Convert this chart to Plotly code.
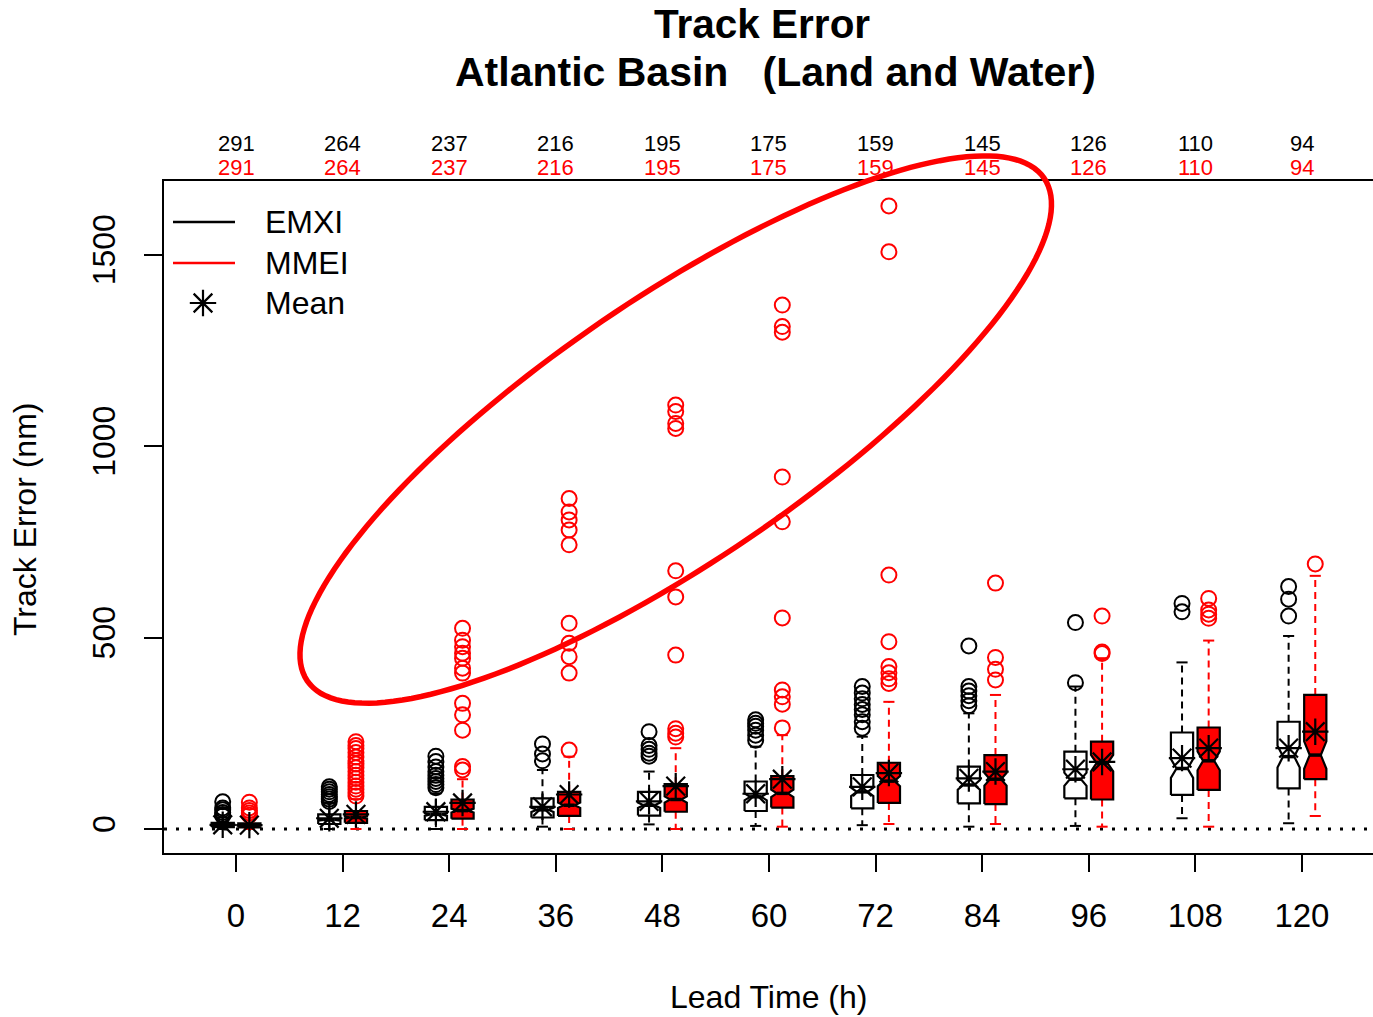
import numpy as np
import plotly.graph_objects as go

# ---- data -----------------------------------------------------------------
lead_times = [0, 12, 24, 36, 48, 60, 72, 84, 96, 108, 120]
n_emxi = [291, 264, 237, 216, 195, 175, 159, 145, 126, 110, 94]
n_mmei = [291, 264, 237, 216, 195, 175, 159, 145, 126, 110, 94]

emxi_low = [0, 0, 0, 6, 12, 8, 10, 6, 8, 28, 15]
emxi_q1 = [5, 13, 23, 30, 35, 47, 54, 67, 80, 89, 106]
emxi_med = [9, 24, 38, 50, 62, 84, 97, 115, 130, 158, 189]
emxi_q3 = [16, 38, 58, 80, 97, 124, 141, 163, 202, 252, 280]
emxi_high = [30, 68, 93, 154, 150, 215, 241, 302, 372, 435, 504]
emxi_mean = [11, 28, 45, 58, 72, 92, 110, 132, 156, 185, 211]
emxi_out = [
    [34, 38, 43, 50, 55, 71],
    [72, 78, 84, 90, 97, 104, 110],
    [108, 116, 124, 132, 140, 150, 162, 176, 190],
    [178, 196, 222],
    [190, 198, 208, 218, 254],
    [232, 245, 258, 268, 276, 285],
    [263, 280, 298, 312, 325, 340, 355, 372],
    [322, 335, 348, 360, 372, 478],
    [382, 539],
    [567, 589],
    [556, 600, 633],
]

mmei_low = [0, 0, 0, 0, 0, 6, 13, 13, 6, 6, 34]
mmei_q1 = [4, 16, 27, 34, 45, 56, 68, 65, 77, 102, 130]
mmei_med = [8, 30, 48, 62, 77, 93, 125, 130, 172, 178, 193]
mmei_q3 = [15, 47, 77, 97, 117, 138, 173, 193, 228, 265, 350]
mmei_high = [30, 78, 130, 189, 211, 245, 332, 350, 446, 492, 661]
mmei_mean = [10, 38, 68, 90, 112, 130, 146, 150, 175, 211, 254]
mmei_out = [
    [36, 42, 48, 55, 70],
    [86, 95, 104, 112, 122, 132, 140, 150, 160, 170, 178, 188, 200, 210, 218, 228],
    [154, 163, 258, 298, 328, 407, 420, 446, 459, 476, 493, 524],
    [206, 407, 450, 485, 537, 742, 781, 807, 828, 863],
    [240, 250, 262, 454, 606, 674, 1046, 1059, 1090, 1107],
    [264, 326, 345, 363, 551, 802, 919, 1297, 1312, 1368],
    [380, 392, 408, 424, 489, 663, 1507, 1627],
    [389, 417, 448, 642],
    [458, 462, 556],
    [550, 561, 572, 602],
    [692],
]

y_ticks = [0, 500, 1000, 1500]

# ---- geometry ---------------------------------------------------------------
W, H = 1373, 1017
ML, MR, MT, MB = 164, 0, 181, 164
PW, PH = W - ML - MR, H - MT - MB
X_RANGE = [-8.11, 128.0]
Y_RANGE = [-62.7, 1692.0]

FONT = "Liberation Sans, Arial, Helvetica, sans-serif"
RED = "#ff0000"

BOX_OFFSET = 1.5      # hours either side of the lead time
BOX_HALF = 1.25       # half box width, hours
NOTCH_FRAC = 0.5


def px_x(v):
    return ML + (v - X_RANGE[0]) / (X_RANGE[1] - X_RANGE[0]) * PW


def px_y(v):
    return MT + (Y_RANGE[1] - v) / (Y_RANGE[1] - Y_RANGE[0]) * PH


def paper_x(px):
    return (px - ML) / PW


def paper_y(py):
    return (H - MB - py) / PH


def box_traces(offset, low, q1, med, q3, high, n, outs, edge, fill, whisk):
    wx, wy, sx, sy, bx, by, mx, my, ox, oy = ([] for _ in range(10))
    for i, t in enumerate(lead_times):
        xc = t + offset
        half = 1.58 * (q3[i] - q1[i]) / np.sqrt(n[i])
        c_lo, c_hi = med[i] - half, med[i] + half
        # dashed whiskers
        wx += [xc, xc, None, xc, xc, None]
        wy += [q1[i], low[i], None, q3[i], high[i], None]
        # staples
        s = BOX_HALF / 2
        sx += [xc - s, xc + s, None, xc - s, xc + s, None]
        sy += [low[i], low[i], None, high[i], high[i], None]
        # notched box outline (R bxp style)
        w, wn = BOX_HALF, BOX_HALF * NOTCH_FRAC
        bx += [xc - w, xc + w, xc + w, xc + wn, xc + w, xc + w,
               xc - w, xc - w, xc - wn, xc - w, xc - w, None]
        by += [q1[i], q1[i], c_lo, med[i], c_hi, q3[i],
               q3[i], c_hi, med[i], c_lo, q1[i], None]
        mx += [xc - wn, xc + wn, None]
        my += [med[i], med[i], None]
        ox += [xc] * len(outs[i])
        oy += outs[i]
    return [
        go.Scatter(x=wx, y=wy, mode="lines", hoverinfo="skip",
                   line=dict(color=whisk, width=2, dash="7px,5px")),
        go.Scatter(x=sx, y=sy, mode="lines", hoverinfo="skip",
                   line=dict(color=whisk, width=2)),
        go.Scatter(x=bx, y=by, mode="lines", fill="toself", fillcolor=fill,
                   hoverinfo="skip", line=dict(color=edge, width=2.2)),
        go.Scatter(x=mx, y=my, mode="lines", hoverinfo="skip",
                   line=dict(color="black", width=3.5)),
        go.Scatter(x=ox, y=oy, mode="markers", hoverinfo="skip",
                   marker=dict(symbol="circle-open", size=15, color=whisk,
                               line=dict(width=2, color=whisk))),
    ]


fig = go.Figure()

# dotted zero reference line
fig.add_trace(go.Scatter(x=X_RANGE, y=[0, 0], mode="lines", hoverinfo="skip",
                         line=dict(color="black", width=3, dash="3px,9px")))

for tr in box_traces(-BOX_OFFSET, emxi_low, emxi_q1, emxi_med, emxi_q3, emxi_high,
                     n_emxi, emxi_out, "black", "white", "black"):
    fig.add_trace(tr)
for tr in box_traces(BOX_OFFSET, mmei_low, mmei_q1, mmei_med, mmei_q3, mmei_high,
                     n_mmei, mmei_out, "black", RED, RED):
    fig.add_trace(tr)

# means
for offset, means in ((-BOX_OFFSET, emxi_mean), (BOX_OFFSET, mmei_mean)):
    fig.add_trace(go.Scatter(
        x=[t + offset for t in lead_times], y=means, mode="markers",
        hoverinfo="skip",
        marker=dict(symbol="asterisk-open", size=22, color="black",
                    line=dict(width=2.2, color="black"))))

# legend (drawn by hand, top-left, no frame)
leg_rows = [(222, "EMXI"), (263, "MMEI"), (303, "Mean")]
shapes = []
for py, col in ((222, "black"), (263, RED)):
    shapes.append(dict(type="line", xref="paper", yref="paper",
                       x0=paper_x(173), x1=paper_x(235),
                       y0=paper_y(py), y1=paper_y(py),
                       line=dict(color=col, width=2.5)))
fig.add_trace(go.Scatter(
    x=[X_RANGE[0] + (203 - ML) / PW * (X_RANGE[1] - X_RANGE[0])],
    y=[Y_RANGE[1] - (303 - MT) / PH * (Y_RANGE[1] - Y_RANGE[0])],
    mode="markers", hoverinfo="skip", cliponaxis=False,
    marker=dict(symbol="asterisk-open", size=22, color="black",
                line=dict(width=2.2, color="black"))))

annotations = []
for py, label in leg_rows:
    annotations.append(dict(text=label, xref="paper", yref="paper",
                            x=paper_x(263), y=paper_y(py), xanchor="left",
                            yanchor="middle", showarrow=False,
                            font=dict(size=32, family=FONT, color="black")))

# sample counts above the panel
for t, ne, nm in zip(lead_times, n_emxi, n_mmei):
    annotations.append(dict(text=str(ne), xref="x", yref="paper", x=t,
                            y=paper_y(143), yanchor="middle", showarrow=False,
                            font=dict(size=22, family=FONT, color="black")))
    annotations.append(dict(text=str(nm), xref="x", yref="paper", x=t,
                            y=paper_y(168), yanchor="middle", showarrow=False,
                            font=dict(size=22, family=FONT, color=RED)))

# titles
annotations.append(dict(text="<b>Track Error</b>", xref="paper", yref="paper",
                        x=paper_x(762), y=paper_y(24), yanchor="middle",
                        showarrow=False, font=dict(size=40.5, family=FONT)))
annotations.append(dict(text="<b>Atlantic Basin\u00a0\u00a0\u00a0(Land and Water)</b>",
                        xref="paper", yref="paper",
                        x=paper_x(775), y=paper_y(72), yanchor="middle",
                        showarrow=False, font=dict(size=41, family=FONT)))
annotations.append(dict(text="Lead Time (h)", xref="paper", yref="paper",
                        x=paper_x(768), y=paper_y(997), yanchor="middle",
                        showarrow=False, font=dict(size=32, family=FONT)))
annotations.append(dict(text="Track Error (nm)", xref="paper", yref="paper",
                        x=paper_x(25), y=paper_y(520), xanchor="center",
                        yanchor="middle", textangle=-90, showarrow=False,
                        font=dict(size=32, family=FONT)))

# highlight ellipse around the large MMEI outliers
ell_cx, ell_cy = 49.5, 1043.0          # centre (h, nm)
ell_a, ell_b, ell_tilt = 446.0, 131.0, np.radians(34.3)   # screen px, tilt
tt = np.linspace(0, 2 * np.pi, 181)
cxp, cyp = px_x(ell_cx), px_y(ell_cy)
ex = cxp + ell_a * np.cos(tt) * np.cos(ell_tilt) - ell_b * np.sin(tt) * np.sin(ell_tilt)
ey = cyp - (ell_a * np.cos(tt) * np.sin(ell_tilt) + ell_b * np.sin(tt) * np.cos(ell_tilt))
path = "M " + " L ".join(f"{paper_x(a):.5f},{paper_y(b):.5f}" for a, b in zip(ex, ey)) + " Z"
shapes.append(dict(type="path", xref="paper", yref="paper", path=path,
                   line=dict(color=RED, width=5.5), layer="above"))

fig.update_layout(
    width=W, height=H,
    margin=dict(l=ML, r=MR, t=MT, b=MB, pad=0),
    plot_bgcolor="white", paper_bgcolor="white",
    showlegend=False,
    font=dict(family=FONT, color="black"),
    shapes=shapes, annotations=annotations,
)
fig.update_xaxes(
    range=X_RANGE, tickmode="array", tickvals=lead_times,
    ticktext=[str(t) for t in lead_times],
    ticks="outside", ticklen=17, tickwidth=2, tickcolor="black",
    showline=True, linewidth=2, linecolor="black", mirror=True,
    showgrid=False, zeroline=False,
    tickfont=dict(size=33, family=FONT, color="black"),
    ticklabelstandoff=15,
)
fig.update_yaxes(
    range=Y_RANGE, tickmode="array", tickvals=y_ticks,
    ticktext=[str(v) for v in y_ticks],
    ticks="outside", ticklen=18, tickwidth=2, tickcolor="black",
    showline=True, linewidth=2, linecolor="black", mirror=False,
    showgrid=False, zeroline=False, tickangle=-90,
    tickfont=dict(size=32, family=FONT, color="black"),
    ticklabelstandoff=16,
)

fig.write_html("out.html")
